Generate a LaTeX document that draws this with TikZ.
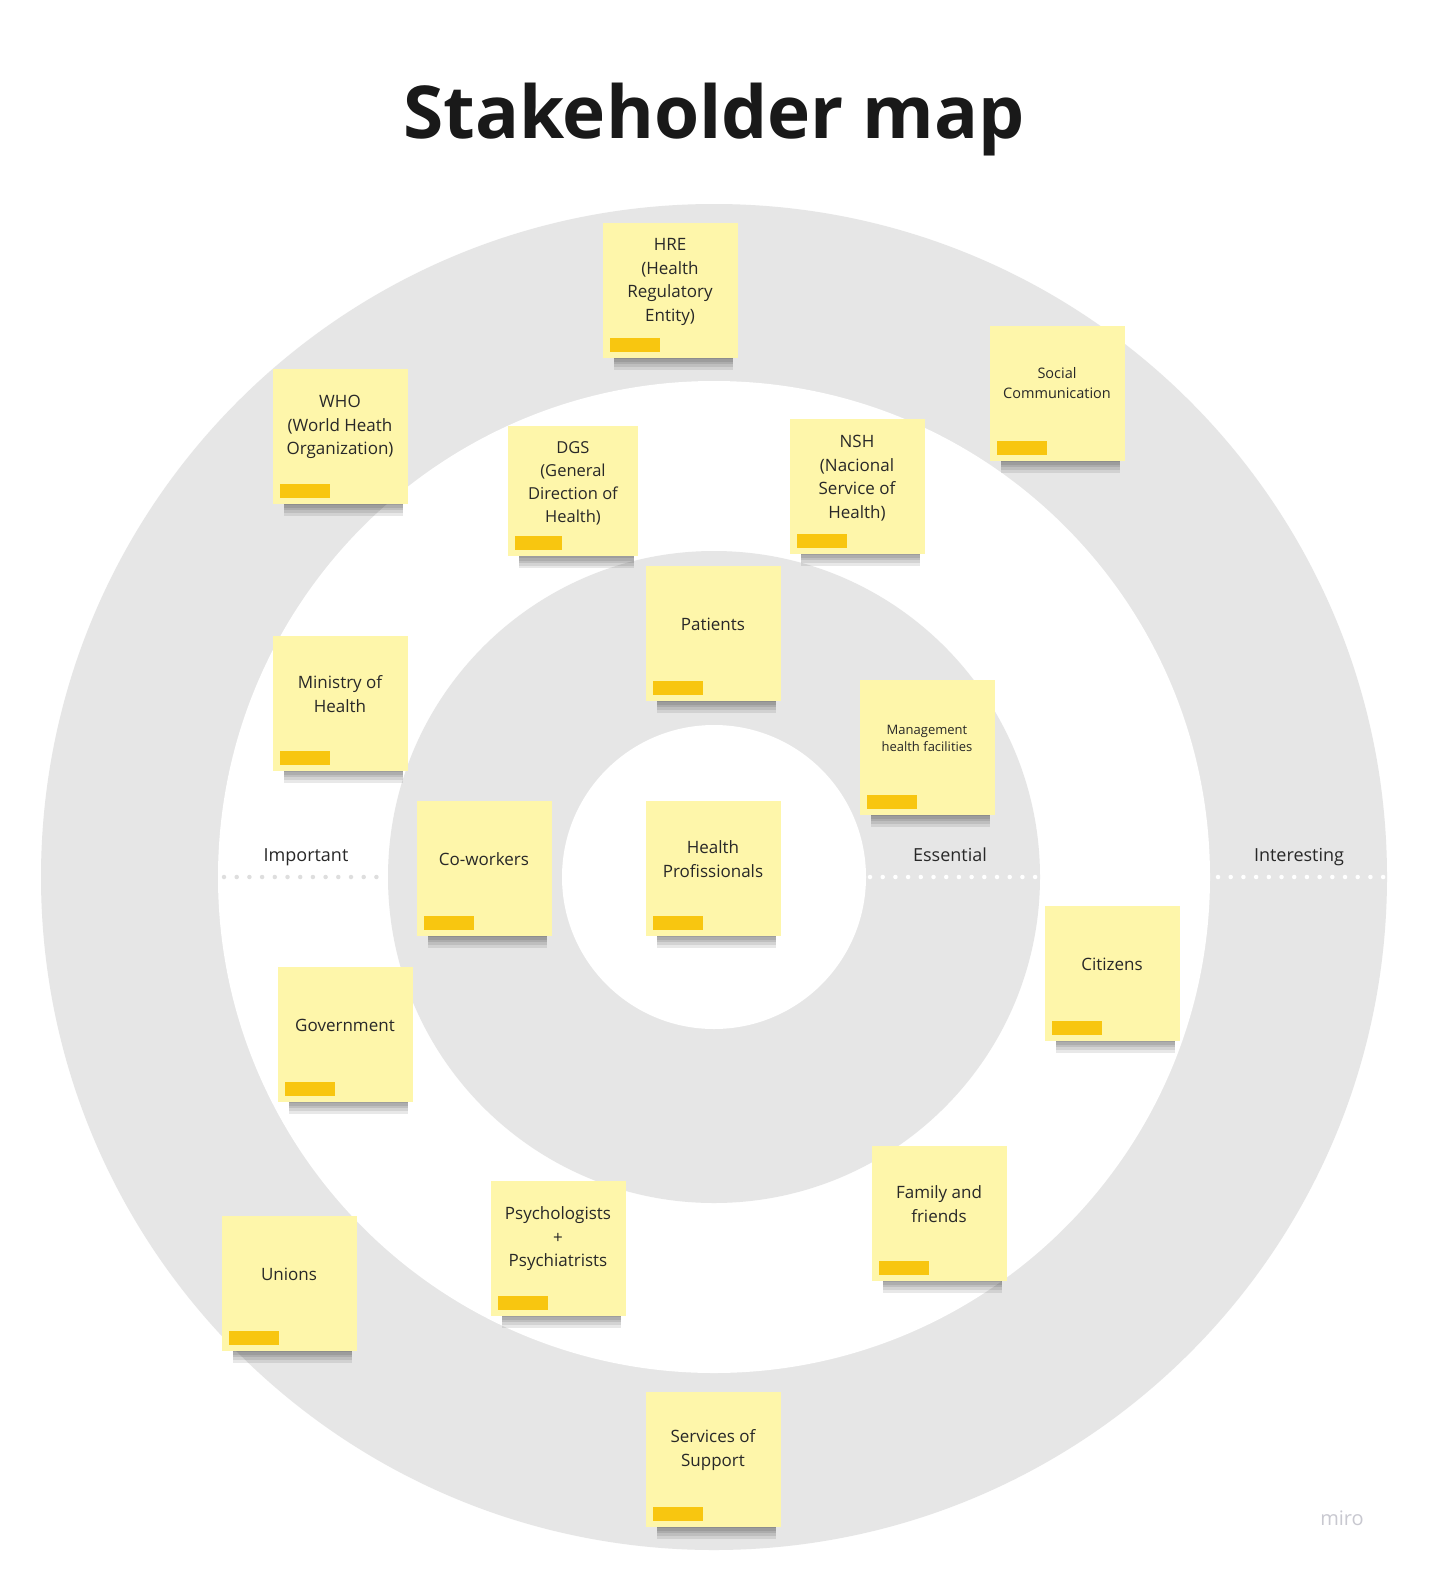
\documentclass[tikz,border=0pt]{standalone}
\usepackage{fontspec}
\setmainfont{Open Sans}
\usetikzlibrary{shadows}
\definecolor{ringgrey}{RGB}{230,230,230}
\definecolor{notefill}{RGB}{254,246,170}
\definecolor{tagfill}{RGB}{248,198,16}
\definecolor{inkgrey}{RGB}{40,40,40}
\definecolor{dotgrey}{RGB}{222,222,222}
\definecolor{mirogrey}{RGB}{200,200,208}
\tikzset{
	ring/.style={circle, inner sep=0pt},
	layer/.style={general shadow={fill=black, opacity=.09, shadow scale=.88, shadow xshift=4pt, shadow yshift=-#1}},
	note/.style={fill=notefill, minimum width=135pt, minimum height=135pt, inner sep=0pt,
		layer=23pt, layer=20pt, layer=17pt, layer=14pt, layer=11pt},
	notetext/.style={text=inkgrey, align=center, inner sep=0pt, font=\fontsize{17}{23.5}\selectfont},
	smalltext/.style={notetext, font=\fontsize{14.5}{20}\selectfont},
	tag/.style={fill=tagfill, minimum width=50pt, minimum height=14pt, inner sep=0pt, anchor=south west},
	zone/.style={text=inkgrey, anchor=base, font=\fontsize{18}{22}\selectfont},
	dots/.style={line width=4.5pt, line cap=round, dash pattern=on 0pt off 12.7pt}
}

\begin{document}
\begin{tikzpicture}[x=1pt, y=-1pt]
		\fill[white] (0,0) rectangle (1445,1581);
		\useasboundingbox (0,0) rectangle (1445,1581);
		\node (title)[anchor=base, text=black!90, font=\fontsize{73}{86}\selectfont\bfseries] at (714,139) {Stakeholder map};
		%
		\node (interesting)[ring, fill=ringgrey, minimum size=1346pt] at (714,877) {};
		\node (essential)[ring, fill=white, minimum size=992pt] at (714,877) {};
		\node (important)[ring, fill=ringgrey, minimum size=652pt] at (714,877) {};
		\node (core)[ring, fill=white, minimum size=304pt] at (714,877) {};
		%
		\draw [dots, dotgrey] (224,877)--(386,877);
		\draw [dots, white] (870,877)--(1036,877);
		\draw [dots, white] (1218,877)--(1384,877);
		\node (important-l)[zone] at (306,861) {Important};
		\node (essential-l)[zone] at (950,861) {Essential};
		\node (interesting-l)[zone] at (1299,861) {Interesting};
		%
		\node (hre)[note] at (670,290) {};
		\node (hre-t)[notetext] at ([yshift=8pt]hre.center) {HRE\\(Health\\Regulatory\\Entity)};
		\node (hre-tag)[tag] at ([xshift=7pt, yshift=6pt]hre.south west) {};
		%
		\node (soc)[note] at (1057,393) {};
		\node (soc-t)[smalltext] at ([yshift=10pt]soc.center) {Social\\Communication};
		\node (soc-tag)[tag] at ([xshift=7pt, yshift=6pt]soc.south west) {};
		%
		\node (who)[note] at (340,436) {};
		\node (who-t)[notetext] at ([yshift=9pt]who.center) {WHO\\(World Heath\\Organization)};
		\node (who-tag)[tag] at ([xshift=7pt, yshift=6pt]who.south west) {};
		%
		\node (dgs)[note, minimum width=130pt, minimum height=130pt] at (573,491) {};
		\node (dgs-t)[notetext, font=\fontsize{16.5}{23}\selectfont] at ([yshift=8pt]dgs.center) {DGS\\(General\\Direction of\\Health)};
		\node (dgs-tag)[tag, minimum width=47pt] at ([xshift=7pt, yshift=6pt]dgs.south west) {};
		%
		\node (nsh)[note] at (857,486) {};
		\node (nsh-t)[notetext] at ([yshift=8pt]nsh.center) {NSH\\(Nacional\\Service of\\Health)};
		\node (nsh-tag)[tag] at ([xshift=7pt, yshift=6pt]nsh.south west) {};
		%
		\node (pat)[note] at (713,633) {};
		\node (pat-t)[notetext] at ([yshift=9pt]pat.center) {Patients};
		\node (pat-tag)[tag] at ([xshift=7pt, yshift=6pt]pat.south west) {};
		%
		\node (min)[note] at (340,703) {};
		\node (min-t)[notetext] at ([yshift=9pt]min.center) {Ministry of\\Health};
		\node (min-tag)[tag] at ([xshift=7pt, yshift=6pt]min.south west) {};
		%
		\node (mgmt)[note] at (927,747) {};
		\node (mgmt-t)[smalltext, font=\fontsize{13}{17}\selectfont] at ([yshift=9pt]mgmt.center) {Management\\health facilities};
		\node (mgmt-tag)[tag] at ([xshift=7pt, yshift=6pt]mgmt.south west) {};
		%
		\node (cow)[note] at (484,868) {};
		\node (cow-t)[notetext] at ([yshift=9pt]cow.center) {Co-workers};
		\node (cow-tag)[tag] at ([xshift=7pt, yshift=6pt]cow.south west) {};
		%
		\node (prof)[note] at (713,868) {};
		\node (prof-t)[notetext] at ([yshift=9pt]prof.center) {Health\\Profissionals};
		\node (prof-tag)[tag] at ([xshift=7pt, yshift=6pt]prof.south west) {};
		%
		\node (cit)[note] at (1112,973) {};
		\node (cit-t)[notetext] at ([yshift=9pt]cit.center) {Citizens};
		\node (cit-tag)[tag] at ([xshift=7pt, yshift=6pt]cit.south west) {};
		%
		\node (gov)[note] at (345,1034) {};
		\node (gov-t)[notetext] at ([yshift=9pt]gov.center) {Government};
		\node (gov-tag)[tag] at ([xshift=7pt, yshift=6pt]gov.south west) {};
		%
		\node (fam)[note] at (939,1213) {};
		\node (fam-t)[notetext] at ([yshift=9pt]fam.center) {Family and\\friends};
		\node (fam-tag)[tag] at ([xshift=7pt, yshift=6pt]fam.south west) {};
		%
		\node (psy)[note] at (558,1248) {};
		\node (psy-t)[notetext] at ([yshift=9pt]psy.center) {Psychologists\\+\\Psychiatrists};
		\node (psy-tag)[tag] at ([xshift=7pt, yshift=6pt]psy.south west) {};
		%
		\node (uni)[note] at (289,1283) {};
		\node (uni-t)[notetext] at ([yshift=9pt]uni.center) {Unions};
		\node (uni-tag)[tag] at ([xshift=7pt, yshift=6pt]uni.south west) {};
		%
		\node (sup)[note] at (713,1459) {};
		\node (sup-t)[notetext] at ([yshift=9pt]sup.center) {Services of\\Support};
		\node (sup-tag)[tag] at ([xshift=7pt, yshift=6pt]sup.south west) {};
		%
		\node (miro)[anchor=base, text=mirogrey, font=\fontsize{20}{24}\selectfont] at (1342,1525) {miro};
	\end{tikzpicture}
\end{document}
